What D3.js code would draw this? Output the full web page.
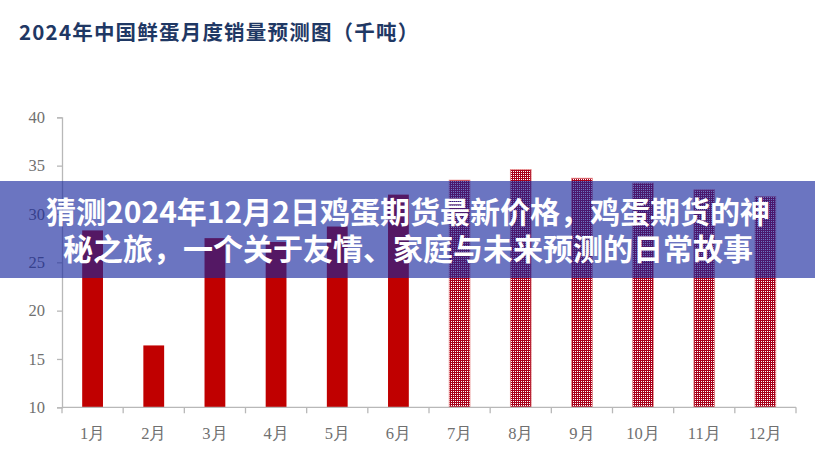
<!DOCTYPE html>
<html>
<head>
<meta charset="utf-8">
<script src="https://cdn.jsdelivr.net/npm/d3@7/dist/d3.min.js"></script>
<style>
  html, body { margin: 0; padding: 0; background: #fff; }
  svg { display: block; }
</style>
</head>
<body>
<svg id="chart" width="815" height="461"></svg>
<script>
const months = ["1月","2月","3月","4月","5月","6月","7月","8月","9月","10月","11月","12月"];
const values = [28.3, 16.4, 27.5, 27.1, 28.7, 32.0, 33.5, 34.6, 33.7, 33.2, 32.5, 31.8];
const kinds = ["actual","actual","actual","actual","actual","actual","forecast","forecast","forecast","forecast","forecast","forecast"];
const yTicks = [10, 15, 20, 25, 30, 35, 40];
const titleText = "2024年中国鲜蛋月度销量预测图（千吨）";
const bannerLines = ["猜测2024年12月2日鸡蛋期货最新价格，鸡蛋期货的神", "秘之旅，一个关于友情、家庭与未来预测的日常故事"];

const svg = d3.select("#chart");
const W = 815, H = 461;
const m = { left: 62, right: 19, top: 117.3, bottom: 53.7 };

const x = d3.scaleBand().domain(months).range([m.left, W - m.right]).paddingInner(0.66).paddingOuter(0.33);
const xEdge = d3.scaleBand().domain(months).range([m.left, W - m.right]).padding(0);
const y = d3.scaleLinear().domain([10, 40]).range([H - m.bottom, m.top]);

// pattern
const defs = svg.append("defs");
const pat = defs.append("pattern").attr("id", "checker").attr("width", 2).attr("height", 2).attr("patternUnits", "userSpaceOnUse");
pat.append("rect").attr("width", 2).attr("height", 2).attr("fill", "#a8001a");
pat.append("rect").attr("x", 1).attr("y", 1).attr("width", 1).attr("height", 1).attr("fill", "#ffffff");

// title
svg.append("text")
  .attr("x", 19).attr("y", 40)
  .attr("font-family", "'Noto Sans CJK SC', sans-serif")
  .attr("font-weight", "bold")
  .attr("font-size", 20.5)
  .attr("letter-spacing", 1.2)
  .attr("fill", "#1f3864")
  .text(titleText);

// bars
const data = months.map((mo, i) => ({ m: mo, v: values[i], k: kinds[i] }));
svg.append("g").selectAll("rect").data(data).join("rect")
  .attr("x", d => x(d.m))
  .attr("width", x.bandwidth())
  .attr("y", d => y(d.v))
  .attr("height", d => y(10) - y(d.v))
  .attr("fill", d => d.k === "actual" ? "#c00000" : "url(#checker)")
  .attr("stroke", d => d.k === "actual" ? "none" : "#e88a8a")
  .attr("stroke-width", 0.8);

// y axis
const yAxis = d3.axisLeft(y).tickValues(yTicks).tickSize(5).tickPadding(12);
const gy = svg.append("g").attr("transform", `translate(${m.left},0)`).call(yAxis);
gy.select(".domain").attr("stroke", "#b8b8b8").attr("stroke-width", 1.3);
gy.selectAll(".tick line").attr("stroke", "#b8b8b8").attr("stroke-width", 1.3);
gy.selectAll(".tick text")
  .attr("font-family", "'Liberation Serif', 'Times New Roman', serif")
  .attr("font-size", 16.5).attr("fill", "#707070");

// x axis
const gx = svg.append("g").attr("transform", `translate(0,${y(10)})`);
gx.append("line").attr("x1", m.left).attr("x2", W - m.right).attr("y1", 0).attr("y2", 0)
  .attr("stroke", "#b8b8b8").attr("stroke-width", 1.3);
const edges = months.map(mo => xEdge(mo)).concat([xEdge(months[months.length - 1]) + xEdge.bandwidth()]);
gx.selectAll("line.tk").data(edges).join("line").attr("class", "tk")
  .attr("x1", d => d).attr("x2", d => d).attr("y1", 0).attr("y2", 6)
  .attr("stroke", "#b8b8b8").attr("stroke-width", 1.3);
gx.selectAll("text").data(months).join("text")
  .attr("x", d => x(d) + x.bandwidth() / 2)
  .attr("y", 32)
  .attr("text-anchor", "middle")
  .attr("font-family", "'Liberation Serif', 'Times New Roman', serif")
  .attr("font-size", 16.5).attr("fill", "#707070")
  .text(d => d);

// banner overlay
svg.append("rect").attr("x", 0).attr("y", 181).attr("width", W).attr("height", 97)
  .attr("fill", "rgb(22,38,157)").attr("fill-opacity", 0.635);
svg.append("g").selectAll("text").data(bannerLines).join("text")
  .attr("x", 408).attr("y", (d, i) => 223 + i * 37)
  .attr("text-anchor", "middle")
  .attr("font-family", "'Noto Sans CJK SC', sans-serif")
  .attr("font-weight", "bold")
  .attr("font-size", 30)
  .attr("fill", "#ffffff")
  .text(d => d);
</script>
</body>
</html>
